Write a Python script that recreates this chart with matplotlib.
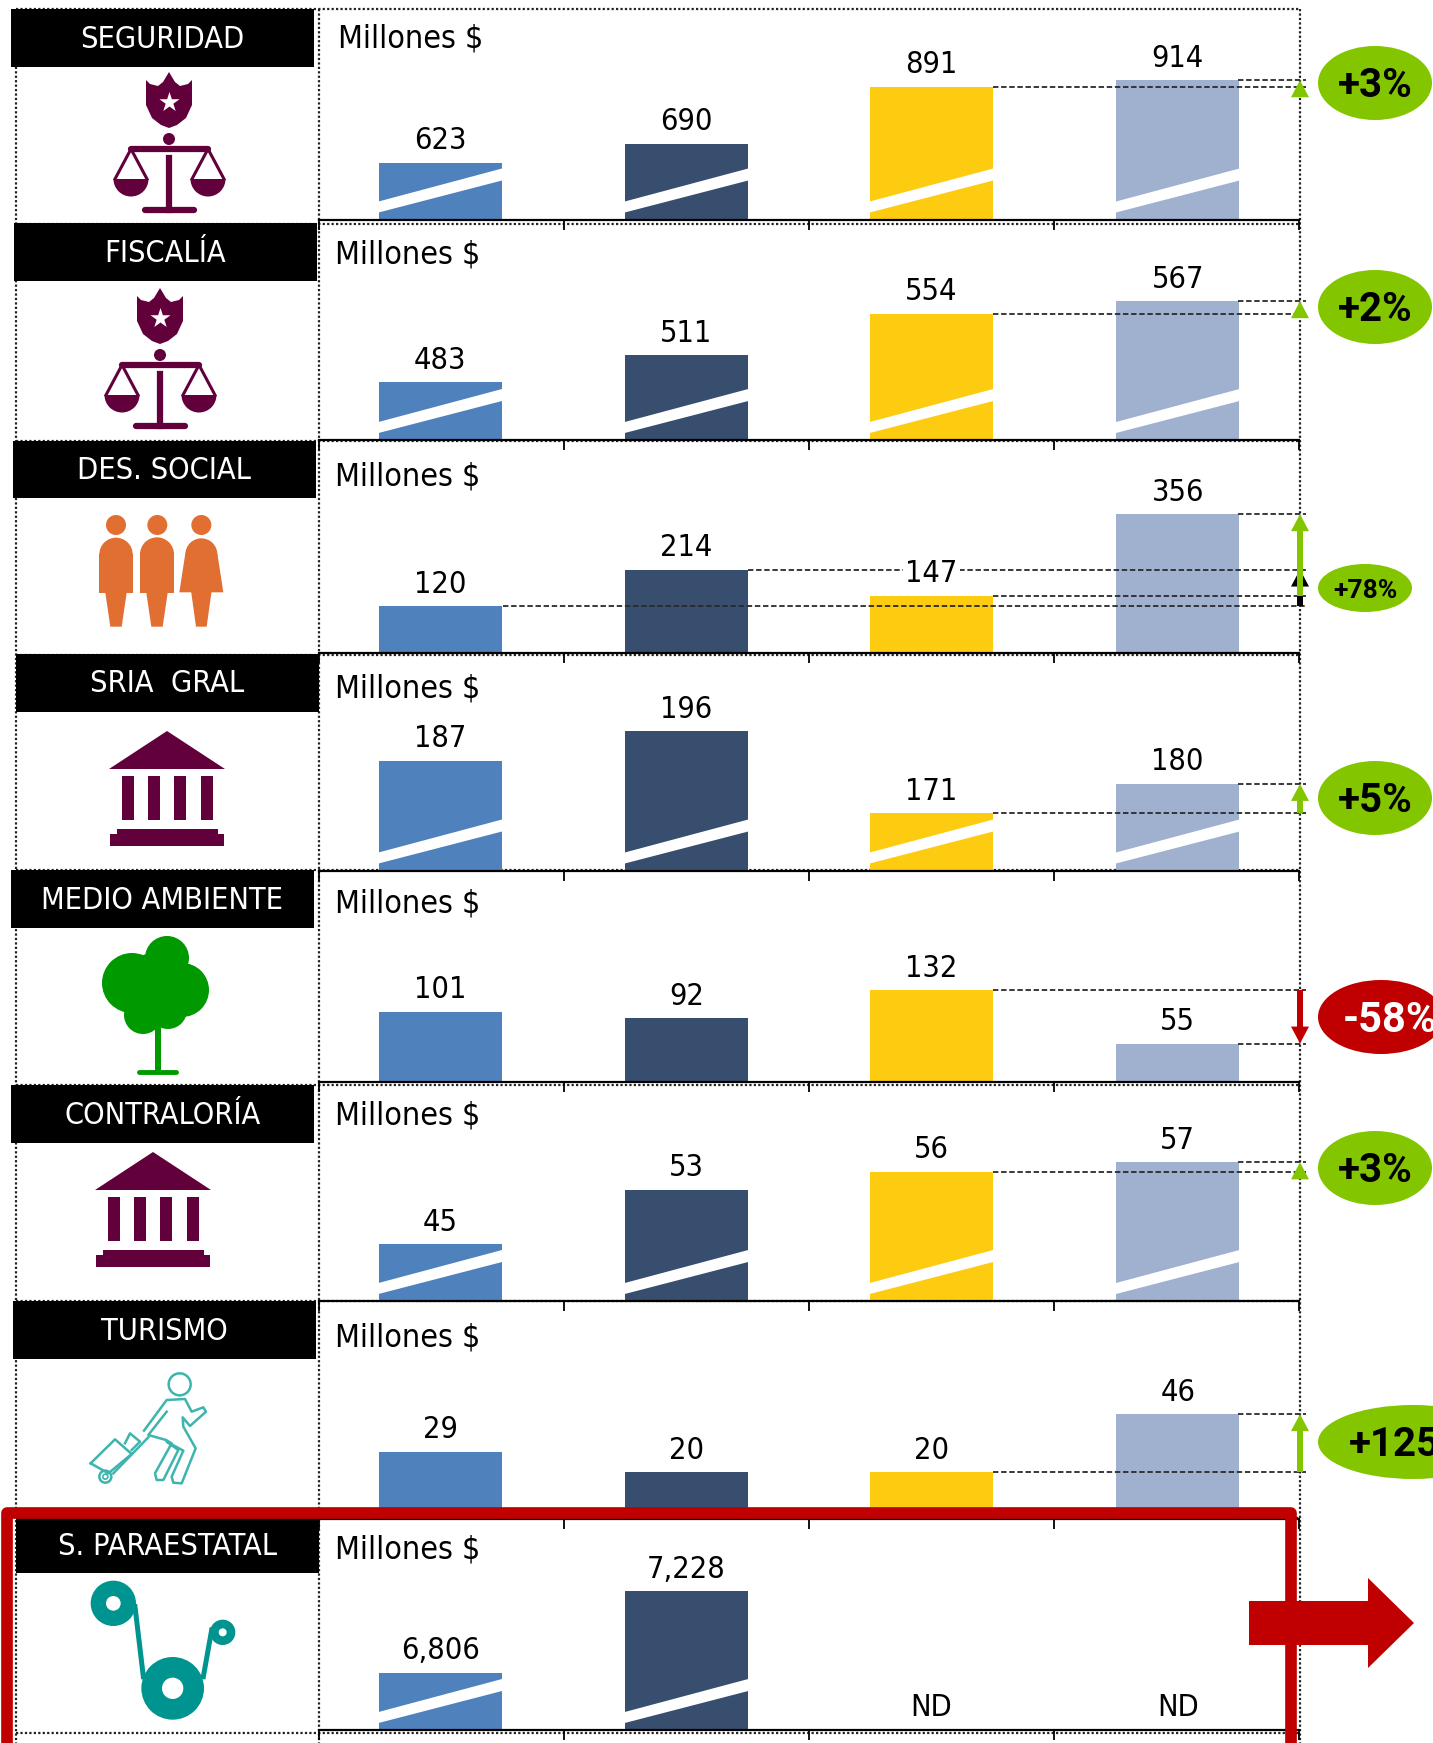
import numpy as np
import matplotlib
matplotlib.use("Agg")
from matplotlib import pyplot as plt
from matplotlib.patches import Circle, Ellipse, Polygon, Rectangle, Wedge

plt.rcParams['font.family'] = ['DejaVu Sans']
plt.rcParams['font.stretch'] = 'condensed'

W, H = 1433, 1743

# data
sectors = ["SEGURIDAD", "FISCALÍA", "DES. SOCIAL", "SRIA  GRAL", "MEDIO AMBIENTE",
           "CONTRALORÍA", "TURISMO", "S. PARAESTATAL"]
seguridad = [623, 690, 891, 914]
fiscalia = [483, 511, 554, 567]
des_social = [120, 214, 147, 356]
sria_gral = [187, 196, 171, 180]
medio_ambiente = [101, 92, 132, 55]
contraloria = [45, 53, 55.6, 57]
turismo = [29.4, 20.4, 20.5, 46]
paraestatal = [6806, 7228, None, None]
all_values = [seguridad, fiscalia, des_social, sria_gral, medio_ambiente, contraloria, turismo, paraestatal]
changes = ["+3%", "+2%", "+78%", "+5%", "-58%", "+3%", "+125%", None]
unit = "Millones $"

# where each truncated axis starts and how many pixels one unit takes
y_floors = [422, 423, 0, 153.6, 0, 36.7, 0, 6512]
px_per_unit = [0.283, 0.964, 0.39, 3.28, 0.69, 6.83, 2.28, 0.194]
has_break = [True, True, False, True, False, True, False, True]

# layout, in pixels of the picture
tops = [9, 224, 441, 655, 870, 1085, 1301, 1518]
baselines = [219.5, 440, 653, 870.5, 1081.5, 1301, 1519, 1730]
head_left = [11, 14, 13, 16, 11, 11, 13, 16]
head_top = [9, 223, 441, 654, 870, 1085, 1301, 1518]
head_bottom = [67, 281, 498, 712, 928, 1143, 1359, 1573]
unit_x = [338, 335, 335, 335, 335, 335, 335, 335]
unit_y = [39, 255, 477, 689, 904, 1116, 1338, 1550]
# pill centre x, y, width, height, font size, text shift x
pills = [(1375, 83, 114, 74, 29, 0), (1375, 307, 114, 74, 29, 0), (1365, 588, 94, 48, 19, 0),
         (1375, 798, 114, 74, 29, 0), (1381, 1017, 126, 74, 30, 9), (1375, 1168, 114, 74, 29, 0),
         (1413, 1442, 190, 74, 29, -4)]
bar_x = [0.495, 1.5, 2.5, 3.505]

blue, navy, yellow, light = "#4F81BD", "#374E6F", "#FDCB10", "#9FB1CF"
green, red, purple = "#83C600", "#C00000", "#62003C"
teal = "#009490"
bar_colors = [blue, navy, yellow, light]

fig = plt.figure(figsize=(W / 100, H / 100), dpi=100)
fig.patch.set_facecolor("white")

bg = fig.add_axes([0, 0, 1, 1], zorder=0)
bg.set_xlim(0, W)
bg.set_ylim(H, 0)
bg.axis("off")
top = fig.add_axes([0, 0, 1, 1], zorder=5)
top.set_xlim(0, W)
top.set_ylim(H, 0)
top.axis("off")
top.patch.set_visible(False)

# dotted grid of the table
for x in (16, 319, 1300):
    bg.plot([x, x], [9, H], color="#222222", lw=1.6, ls=(0, (1, 1)))
for y in tops + [1733]:
    bg.plot([16, 1300], [y, y], color="#222222", lw=1.6, ls=(0, (1, 1)))


def bar_px(ax, v):
    return top.transData.inverted().transform(ax.transData.transform((0, v)))[1]


panel_axes = []
for i, values in enumerate(all_values):
    h_px = baselines[i] - tops[i]
    ax = fig.add_axes([319 / W, 1 - baselines[i] / H, 980 / W, h_px / H], zorder=2)
    ax.patch.set_visible(False)
    ax.set_xlim(0, 4)
    ax.set_ylim(y_floors[i], y_floors[i] + h_px / px_per_unit[i])
    for s in ("top", "left", "right"):
        ax.spines[s].set_visible(False)
    ax.spines["bottom"].set_linewidth(1.6)
    ax.set_yticks([])
    ax.set_xticks(range(5))
    ax.set_xticklabels([])
    ax.tick_params(axis="x", length=7, width=1.3, direction="out")
    panel_axes.append(ax)

    for x, v, c in zip(bar_x, values, bar_colors):
        if v is None:
            ax.text(x, y_floors[i] + 23 / px_per_unit[i], "ND", ha="center", va="center",
                    fontsize=22, color="black", zorder=6)
            continue
        ax.bar(x, v - y_floors[i], bottom=y_floors[i], width=0.502, color=c, zorder=2)
        if has_break[i]:
            # white slash on the bars of a cut axis
            low = [7, 39]
            up = [18, 51]
            ys = [y_floors[i] + p / px_per_unit[i] for p in low + up[::-1]]
            ax.fill([x - 0.252, x + 0.252, x + 0.252, x - 0.252], ys, color="white", lw=0, zorder=3)
        ax.annotate(f"{round(v):,}", (x, v), xytext=(0, 22), textcoords="offset pixels",
                    ha="center", va="center", fontsize=22, color="black", zorder=6,
                    bbox=dict(fc="white", ec="none", pad=1.5) if i == 2 and x == 2.5 else None)

    # dashed guide lines
    shown = [(k, v) for k, v in enumerate(values) if v is not None]
    if changes[i] is not None:
        guides = [shown[-2], shown[-1]]
        if i == 2:
            guides = shown
        for k, v in guides:
            ax.plot([k + 0.75, 4.03], [v, v], color="#2A2A2A", lw=1.3, ls=(0, (3, 1.5)),
                    clip_on=False, zorder=4)
    ax.text((unit_x[i] - 319) / 245, y_floors[i] + (baselines[i] - unit_y[i]) / px_per_unit[i],
            unit, ha="left", va="center", fontsize=23, color="black")


# headers
for i, name in enumerate(sectors):
    top.add_patch(Rectangle((head_left[i], head_top[i]), 303, head_bottom[i] - head_top[i], fc="black", ec="none"))
    top.text(head_left[i] + 151.5, (head_top[i] + head_bottom[i]) / 2 + 1, name, color="white",
             ha="center", va="center", fontsize=22)


def arrow(x, y0, y1, color, zorder=7):
    # vertical arrow, tail y0, tip y1
    d = 1 if y1 < y0 else -1
    head = 17
    if abs(y1 - y0) > head:
        top.add_patch(Rectangle((x - 3, min(y0, y1 + d * head)), 6, abs(y0 - (y1 + d * head)), fc=color, ec="none", zorder=zorder))
    top.add_patch(Polygon([(x, y1), (x - 9, y1 + d * head), (x + 9, y1 + d * head)], fc=color, ec="none", zorder=zorder))


# variation arrows
for i, values in enumerate(all_values):
    if changes[i] is None:
        continue
    y_start = bar_px(panel_axes[i], values[2])
    y_end = bar_px(panel_axes[i], values[3])
    if abs(y_start - y_end) < 17:
        y_start = y_end + 17
    arrow(1300, y_start, y_end, green if values[3] > values[2] else red)
y_a = bar_px(panel_axes[2], des_social[0])
y_b = bar_px(panel_axes[2], des_social[1])
arrow(1300, y_a, y_b, "black", zorder=6)

# pills
for i, (cx, cy, w, h, fs, shift) in enumerate(pills):
    neg = changes[i].startswith("-")
    top.add_patch(Ellipse((cx, cy), w, h, fc=red if neg else green, ec="none", zorder=8))
    top.text(cx + shift, cy + 3, changes[i], ha="center", va="center", fontsize=fs, family="Roboto", stretch="normal",
             color="white" if neg else "black", fontweight="bold", zorder=9, clip_on=True)


def scales(cx, oy):
    c = purple
    top.add_patch(Polygon([(cx - 23, 80 + oy), (cx - 19, 84 + oy), (cx - 11, 86 + oy), (cx - 6, 82 + oy), (cx, 72 + oy),
                           (cx + 6, 82 + oy), (cx + 11, 86 + oy), (cx + 19, 84 + oy), (cx + 23, 80 + oy),
                           (cx + 23, 105 + oy), (cx + 17, 118 + oy), (cx + 8, 125 + oy), (cx, 128 + oy),
                           (cx - 8, 125 + oy), (cx - 17, 118 + oy), (cx - 23, 105 + oy)], fc=c, ec="none"))
    top.scatter([cx], [102 + oy], marker="*", s=230, color="white", lw=0, zorder=3)
    top.add_patch(Circle((cx, 139 + oy), 6, fc=c, ec="none"))
    top.plot([cx - 38, cx + 39], [149 + oy, 149 + oy], color=c, lw=4.5, solid_capstyle="round")
    top.plot([cx, cx], [158 + oy, 210 + oy], color=c, lw=4.5)
    top.plot([cx - 24, cx + 25], [210 + oy, 210 + oy], color=c, lw=4.5, solid_capstyle="round")
    for px in (cx - 38, cx + 39):
        top.plot([px - 16, px, px + 16], [179 + oy, 149 + oy, 179 + oy], color=c, lw=2.2)
        top.add_patch(Wedge((px, 179 + oy), 17.5, 0, 180, fc=c, ec="none"))


def temple(cx, oy):
    c = purple
    top.add_patch(Polygon([(cx, oy), (cx - 58, 38 + oy), (cx + 58, 38 + oy)], fc=c, ec="none"))
    for dx in (-45, -19, 7, 34):
        top.add_patch(Rectangle((cx + dx, 45 + oy), 12, 44, fc=c, ec="none"))
    top.add_patch(Rectangle((cx - 50, 98 + oy), 101, 8, fc=c, ec="none"))
    top.add_patch(Rectangle((cx - 57, 103 + oy), 114, 12, fc=c, ec="none"))


def zp(points, ox, oy):
    return [(ox + a / 3, oy + b / 3) for a, b in points]


def people():
    c = "#E26F32"
    ox, oy = 60, 500
    for hx, x0, x1 in ((168, 118, 218), (292, 240, 342)):
        top.add_patch(Circle((ox + hx / 3, oy + 25), 10, fc=c, ec="none"))
        top.add_patch(Circle((ox + (x0 + x1) / 6, oy + 163 / 3), (x1 - x0) / 6, fc=c, ec="none"))
        top.add_patch(Rectangle((ox + x0 / 3, oy + 163 / 3), (x1 - x0) / 3, 38.5, fc=c, ec="none"))
        m = (x0 + x1) / 2
        top.add_patch(Polygon(zp([(m - 33, 272), (m + 33, 272), (m + 17, 380), (m - 17, 380)], ox, oy), fc=c, ec="none"))
    top.add_patch(Circle((ox + 424 / 3, oy + 25), 10, fc=c, ec="none"))
    top.add_patch(Circle((ox + 424 / 3, oy + 163 / 3), 16, fc=c, ec="none"))
    top.add_patch(Polygon(zp([(376, 160), (472, 160), (490, 277), (358, 277)], ox, oy), fc=c, ec="none"))
    top.add_patch(Polygon(zp([(393, 272), (455, 272), (440, 380), (408, 380)], ox, oy), fc=c, ec="none"))


def tree():
    c = "#009900"
    for cx, cy, r in ((132, 983, 30), (167, 958, 22), (182, 990, 27), (143, 1015, 19), (168, 1010, 19),
                      (157, 985, 33), (155, 1000, 25)):
        top.add_patch(Circle((cx, cy), r, fc=c, ec="none"))
    top.add_patch(Rectangle((155, 1015), 6, 57, fc=c, ec="none"))
    top.plot([139, 176], [1072, 1072], color=c, lw=3.5, solid_capstyle="round")


def traveller():
    c = "#3DB5AE"
    ox, oy = 0, 1300
    top.add_patch(Circle((ox + 539 / 3, oy + 253 / 3), 11, fc="white", ec=c, lw=1.8))
    body = [(432, 392), (500, 300), (555, 297), (575, 335), (610, 322), (618, 335), (570, 378), (548, 352),
            (550, 380), (587, 445), (545, 550), (520, 548), (515, 530), (550, 452), (500, 425), (535, 450),
            (490, 540), (470, 540), (465, 520), (515, 430), (498, 420), (445, 405), (500, 335)]
    pts = zp(body, ox, oy)
    top.plot([p[0] for p in pts], [p[1] for p in pts], color=c, lw=1.8)
    case = zp([(272, 490), (345, 418), (395, 462), (325, 520), (272, 490)], ox, oy)
    top.plot([p[0] for p in case], [p[1] for p in case], color=c, lw=1.8)
    handle = zp([(375, 430), (390, 400), (420, 425), (395, 450)], ox, oy)
    top.plot([p[0] for p in handle], [p[1] for p in handle], color=c, lw=1.8)
    rail = zp([(340, 520), (445, 412)], ox, oy)
    top.plot([p[0] for p in rail], [p[1] for p in rail], color=c, lw=1.8)
    top.add_patch(Circle((ox + 316 / 3, oy + 530 / 3), 6, fc="white", ec=c, lw=1.8))
    top.add_patch(Circle((ox + 316 / 3, oy + 530 / 3), 2.5, fc="white", ec=c, lw=1.2))


def rolls():
    ox, oy = 0, 1300
    for a, b in (((405, 920), (430, 1130)), ((635, 990), (610, 1130))):
        pts = zp([a, b], ox, oy)
        top.plot([pts[0][0], pts[1][0]], [pts[0][1], pts[1][1]], color=teal, lw=3.6)
    for x, y, r, hole in ((340, 910, 68, 22), (668, 997, 38, 12), (518, 1165, 94, 32)):
        top.add_patch(Circle((ox + x / 3, oy + y / 3), r / 3, fc=teal, ec="none"))
        top.add_patch(Circle((ox + x / 3, oy + y / 3), hole / 3, fc="white", ec="none"))


scales(169, 0)
scales(160, 216)
people()
temple(167, 731)
tree()
temple(153, 1152)
traveller()
rolls()

# red frame around the last row and its arrow
top.plot([7.5, 7.5, 1291, 1291], [H + 20, 1512.5, 1512.5, H + 20], color=red, lw=8.4,
         solid_joinstyle="round", zorder=10)
top.add_patch(Polygon([(1249, 1601), (1368, 1601), (1368, 1578), (1414, 1623), (1368, 1668),
                       (1368, 1645), (1249, 1645)], fc=red, ec="none", zorder=11))

fig.savefig("out.png", dpi=100)
